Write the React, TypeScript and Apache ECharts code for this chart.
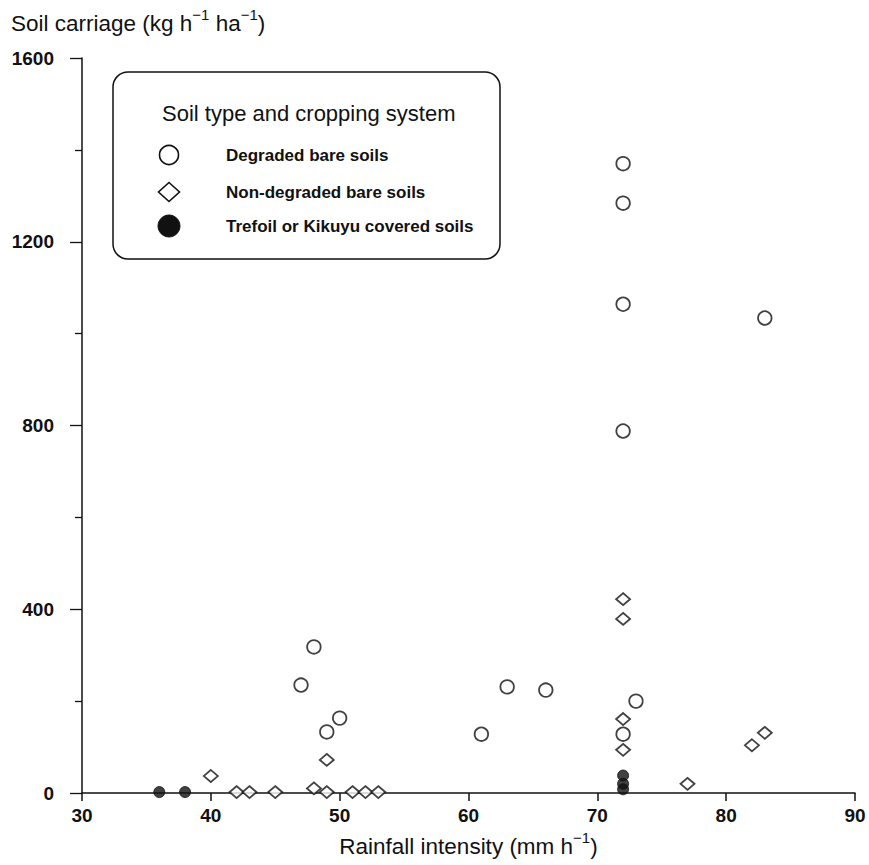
import React, { useEffect, useRef } from "react";
import * as echarts from "echarts";

const xTicks = [30, 40, 50, 60, 70, 80, 90];
const yTicks = [0, 400, 800, 1200, 1600];

const degradedX = [72, 72, 72, 72, 83, 48, 47, 63, 66, 73, 50, 49, 61, 72];
const degradedY = [1370, 1284, 1064, 788, 1034, 318, 235, 231, 224, 200, 163, 133, 128, 128];

const nonDegradedX = [72, 72, 72, 72, 82, 83, 77, 40, 42, 43, 45, 48, 49, 51, 52, 53, 49];
const nonDegradedY = [422, 379, 161, 94, 104, 131, 20, 37, 2, 2, 2, 10, 2, 2, 2, 2, 72];

const coveredX = [36, 38, 72, 72, 72];
const coveredY = [2, 2, 38, 20, 8];

const legendTitle = "Soil type and cropping system";
const seriesNames = ["Degraded bare soils", "Non-degraded bare soils", "Trefoil or Kikuyu covered soils"];

const FONT = "Liberation Sans, Arial, Helvetica, sans-serif";

const zip = (xs: number[], ys: number[]) => xs.map((x, i) => [x, ys[i]]);

const titleRich = {
  n: { fontFamily: FONT, fontSize: 22.5, color: "#111", fill: "#111", verticalAlign: "bottom", lineHeight: 28 },
  s: { fontFamily: FONT, fontSize: 15, color: "#111", fill: "#111", verticalAlign: "top", lineHeight: 28 },
};

export default function App() {
  const ref = useRef<HTMLDivElement>(null);
  useEffect(() => {
    if (!ref.current) return;
    const chart = echarts.init(ref.current, null, { renderer: "svg" });
    const legendY = [155, 192, 226];
    chart.setOption({
      animation: false,
      backgroundColor: "#ffffff",
      grid: { left: 82, right: 14, top: 58, bottom: 72, containLabel: false },
      xAxis: {
        type: "value",
        min: xTicks[0],
        max: xTicks[xTicks.length - 1],
        interval: 10,
        name: "{n|Rainfall intensity (mm h}{s|−1}{n|)}",
        nameLocation: "middle",
        nameGap: 36,
        nameTextStyle: { rich: titleRich },
        axisLine: { show: true, onZero: false, lineStyle: { color: "#111", width: 1.5 } },
        axisTick: { show: true, length: 8, lineStyle: { color: "#111", width: 1.5 } },
        axisLabel: { fontFamily: FONT, fontSize: 19, fontWeight: "bold", color: "#111", margin: 13 },
        splitLine: { show: false },
      },
      yAxis: {
        type: "value",
        min: yTicks[0],
        max: yTicks[yTicks.length - 1],
        interval: 400,
        axisLine: { show: true, onZero: false, lineStyle: { color: "#111", width: 1.5 } },
        axisTick: { show: true, length: 12, lineStyle: { color: "#111", width: 1.3 } },
        minorTick: { show: true, splitNumber: 2, length: 7, lineStyle: { color: "#111", width: 1.3 } },
        axisLabel: {
          fontFamily: FONT,
          fontSize: 19,
          fontWeight: "bold",
          color: "#111",
          margin: 28,
          formatter: (v: number) => String(v),
        },
        splitLine: { show: false },
        minorSplitLine: { show: false },
      },
      graphic: [
        {
          type: "text",
          left: 11,
          top: 7,
          style: { text: "{n|Soil carriage (kg h}{s|−1}{n| ha}{s|−1}{n|)}", rich: titleRich },
        },
        {
          type: "rect",
          shape: { x: 113, y: 72, width: 387, height: 187, r: 15 },
          style: { fill: "#fff", stroke: "#111", lineWidth: 1.5 },
          z: 10,
        },
        {
          type: "text",
          x: 162,
          y: 113,
          style: { text: legendTitle, fontFamily: FONT, fontSize: 22, fill: "#111", verticalAlign: "middle" },
          z: 11,
        },
        {
          type: "circle",
          shape: { cx: 169, cy: legendY[0], r: 9.5 },
          style: { fill: "#fff", stroke: "#111", lineWidth: 1.6 },
          z: 11,
        },
        {
          type: "polygon",
          shape: { points: [[169, legendY[1] - 9.5], [179.5, legendY[1]], [169, legendY[1] + 9.5], [158.5, legendY[1]]] },
          style: { fill: "#fff", stroke: "#111", lineWidth: 1.6 },
          z: 11,
        },
        {
          type: "circle",
          shape: { cx: 169, cy: legendY[2], r: 11 },
          style: { fill: "#111", stroke: "#111", lineWidth: 1 },
          z: 11,
        },
        ...seriesNames.map((n, i) => ({
          type: "text",
          x: 226,
          y: legendY[i],
          style: { text: n, fontFamily: FONT, fontSize: 17, fontWeight: "bold", fill: "#111", verticalAlign: "middle" },
          z: 11,
        })),
      ],
      series: [
        {
          name: seriesNames[0],
          type: "scatter",
          symbol: "circle",
          symbolSize: 13.5,
          data: zip(degradedX, degradedY),
          itemStyle: { color: "#fff", borderColor: "#111", borderWidth: 1.8 },
          z: 3,
        },
        {
          name: seriesNames[1],
          type: "scatter",
          symbol: "diamond",
          symbolSize: [14, 12],
          data: zip(nonDegradedX, nonDegradedY),
          itemStyle: { color: "#fff", borderColor: "#111", borderWidth: 1.8 },
          z: 3,
        },
        {
          name: seriesNames[2],
          type: "scatter",
          symbol: "circle",
          symbolSize: 11,
          data: zip(coveredX, coveredY),
          itemStyle: { color: "#111", borderColor: "#111", borderWidth: 1 },
          z: 4,
        },
      ],
    });
    return () => chart.dispose();
  }, []);
  return <div ref={ref} style={{ position: "absolute", left: 0, top: 0, width: 869, height: 865 }} />;
}
